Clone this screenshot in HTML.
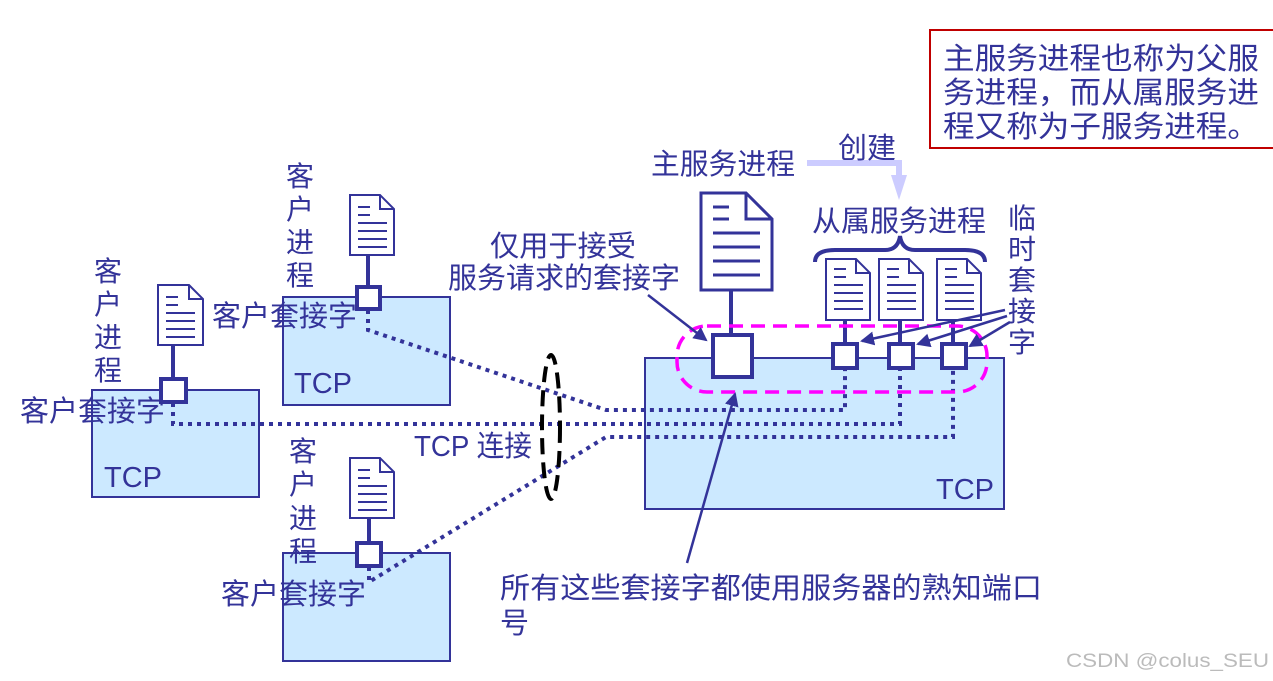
<!DOCTYPE html>
<html><head><meta charset="utf-8"><style>
html,body{margin:0;padding:0;background:#fff;}
svg{display:block;}
text{font-family:"Liberation Sans","Noto Sans CJK SC",sans-serif;fill:#333399;}
</style></head><body>
<svg width="1273" height="681" viewBox="0 0 1273 681" xmlns="http://www.w3.org/2000/svg">
<g stroke="#333399" stroke-width="2">
<rect x="92" y="390" width="167" height="107" fill="#cce9ff"/>
<rect x="283" y="297" width="167" height="108" fill="#cce9ff"/>
<rect x="283" y="553" width="167" height="108" fill="#cce9ff"/>
<rect x="645" y="358" width="359" height="151" fill="#cce9ff"/>
</g>
<g stroke="#333399" stroke-width="4" stroke-dasharray="4 5" fill="none">
<polyline points="368,310 368,330 606,410 845,410 845,368"/>
<polyline points="173,403 173,424 900,424 900,368"/>
<polyline points="369,567 369,582 606,437 953,437 953,368"/>
</g>
<g stroke="#333399" stroke-width="4">
<line x1="173" y1="345" x2="173" y2="378"/>
<line x1="368" y1="255" x2="368" y2="287"/>
<line x1="369" y1="518" x2="369" y2="543"/>
<line x1="731" y1="290" x2="731" y2="335"/>
<line x1="845" y1="320" x2="845" y2="344"/>
<line x1="900" y1="320" x2="900" y2="344"/>
<line x1="953" y1="320" x2="953" y2="344"/>
</g>
<g stroke="#333399" stroke-width="2" fill="#fff">
<g transform="translate(158,285)"><polygon points="0,0 31,0 45,14 45,60 0,60"/><polyline fill="none" points="31,0 31,14 45,14"/><path d="M8 12h12M8 20h12M8 28h29M8 36h29M8 44h29M8 52h29"/></g>
<g transform="translate(350,195)"><polygon points="0,0 30,0 44,14 44,60 0,60"/><polyline fill="none" points="30,0 30,14 44,14"/><path d="M8 12h12M8 20h12M8 28h29M8 36h29M8 44h29M8 52h29"/></g>
<g transform="translate(350,458)"><polygon points="0,0 30,0 44,14 44,60 0,60"/><polyline fill="none" points="30,0 30,14 44,14"/><path d="M8 12h12M8 20h12M8 28h29M8 36h29M8 44h29M8 52h29"/></g>
<g transform="translate(826,259)"><polygon points="0,0 30,0 44,14 44,61 0,61"/><polyline fill="none" points="30,0 30,14 44,14"/><path d="M8 10h12M8 18h12M8 26h29M8 34h29M8 42h29M8 50h29"/></g>
<g transform="translate(879,259)"><polygon points="0,0 30,0 44,14 44,61 0,61"/><polyline fill="none" points="30,0 30,14 44,14"/><path d="M8 10h12M8 18h12M8 26h29M8 34h29M8 42h29M8 50h29"/></g>
<g transform="translate(937,259)"><polygon points="0,0 30,0 44,14 44,61 0,61"/><polyline fill="none" points="30,0 30,14 44,14"/><path d="M8 10h12M8 18h12M8 26h29M8 34h29M8 42h29M8 50h29"/></g>
<g transform="translate(701,193)" stroke-width="3"><polygon points="0,0 45,0 71,26 71,97 0,97"/><polyline fill="none" points="45,0 45,26 71,26"/><path d="M12 14h16M12 26h16M12 40h47M12 54h47M12 68h47M12 82h47"/></g>
</g>
<g stroke="#333399" stroke-width="4" fill="#fff">
<rect x="161" y="379" width="25" height="23"/>
<rect x="357" y="287" width="23" height="22"/>
<rect x="357" y="543" width="24" height="23"/>
<rect x="713" y="335" width="39" height="42"/>
<rect x="833" y="344" width="24" height="24"/>
<rect x="889" y="344" width="24" height="24"/>
<rect x="942" y="344" width="24" height="24"/>
</g>
<rect x="677" y="326" width="310" height="66" rx="30" ry="30" fill="none" stroke="#ff00ff" stroke-width="3.5" stroke-dasharray="14 8"/>
<ellipse cx="551" cy="427" rx="9" ry="72" fill="none" stroke="#000" stroke-width="4" stroke-dasharray="16 8"/>
<path d="M815 262 Q815 250 835 250 L885 250 Q898 250 900 236 Q902 250 915 250 L965 250 Q985 250 985 262" fill="none" stroke="#333399" stroke-width="4"/>
<defs><marker id="b" markerWidth="14" markerHeight="14" refX="12" refY="7" orient="auto" markerUnits="userSpaceOnUse"><path d="M0,0 L14,7 L0,14z" fill="#333399"/></marker></defs>
<g stroke="#333399" stroke-width="2.5" fill="none">
<line x1="687" y1="563" x2="735" y2="394" marker-end="url(#b)"/>
<line x1="648" y1="295" x2="706" y2="340" marker-end="url(#b)"/>
<line x1="1005" y1="310" x2="862" y2="341" marker-end="url(#b)"/>
<line x1="1007" y1="316" x2="918" y2="344" marker-end="url(#b)"/>
<line x1="1010" y1="322" x2="970" y2="346" marker-end="url(#b)"/>
</g>
<path d="M807 163 L899 163 L899 178" fill="none" stroke="#ccccff" stroke-width="6"/>
<polygon points="891,175 907,175 899,200" fill="#ccccff"/>
<rect x="930" y="30" width="345" height="118" fill="none" stroke="#c00000" stroke-width="2"/>
<g font-size="30">
<text x="943" y="69" textLength="316" lengthAdjust="spacingAndGlyphs">主服务进程也称为父服</text>
<text x="943" y="103" textLength="316" lengthAdjust="spacingAndGlyphs">务进程，而从属服务进</text>
<text x="943" y="137" textLength="316" lengthAdjust="spacingAndGlyphs">程又称为子服务进程。</text>
</g>
<g font-size="29">
<text x="651" y="174" textLength="144" lengthAdjust="spacingAndGlyphs">主服务进程</text>
<text x="838" y="158" textLength="58" lengthAdjust="spacingAndGlyphs">创建</text>
<text x="812" y="231" textLength="174" lengthAdjust="spacingAndGlyphs">从属服务进程</text>
<text x="490" y="256" textLength="146" lengthAdjust="spacingAndGlyphs">仅用于接受</text>
<text x="448" y="288" textLength="232" lengthAdjust="spacingAndGlyphs">服务请求的套接字</text>
<text x="212" y="326" textLength="145" lengthAdjust="spacingAndGlyphs">客户套接字</text>
<text x="20" y="421" textLength="145" lengthAdjust="spacingAndGlyphs">客户套接字</text>
<text x="221" y="604" textLength="145" lengthAdjust="spacingAndGlyphs">客户套接字</text>
<text x="414" y="456" textLength="118" lengthAdjust="spacingAndGlyphs">TCP 连接</text>
<text x="500" y="598" textLength="542" lengthAdjust="spacingAndGlyphs">所有这些套接字都使用服务器的熟知端口</text>
<text x="500" y="633">号</text>
<text x="294" y="393">TCP</text>
<text x="104" y="487">TCP</text>
<text x="936" y="499">TCP</text>
</g>
<g font-size="28">
<text x="1008" y="228">临</text><text x="1008" y="259">时</text><text x="1008" y="290">套</text><text x="1008" y="321">接</text><text x="1008" y="352">字</text>
<text x="286" y="186">客</text><text x="286" y="219">户</text><text x="286" y="252">进</text><text x="286" y="285">程</text>
<text x="94" y="281">客</text><text x="94" y="314">户</text><text x="94" y="347">进</text><text x="94" y="380">程</text>
<text x="289" y="461">客</text><text x="289" y="494">户</text><text x="289" y="528">进</text><text x="289" y="561">程</text>
</g>
<text x="1066" y="667" font-size="19" textLength="203" lengthAdjust="spacingAndGlyphs" style="fill:#bbbbbb">CSDN @colus_SEU</text>
</svg>
</body></html>
